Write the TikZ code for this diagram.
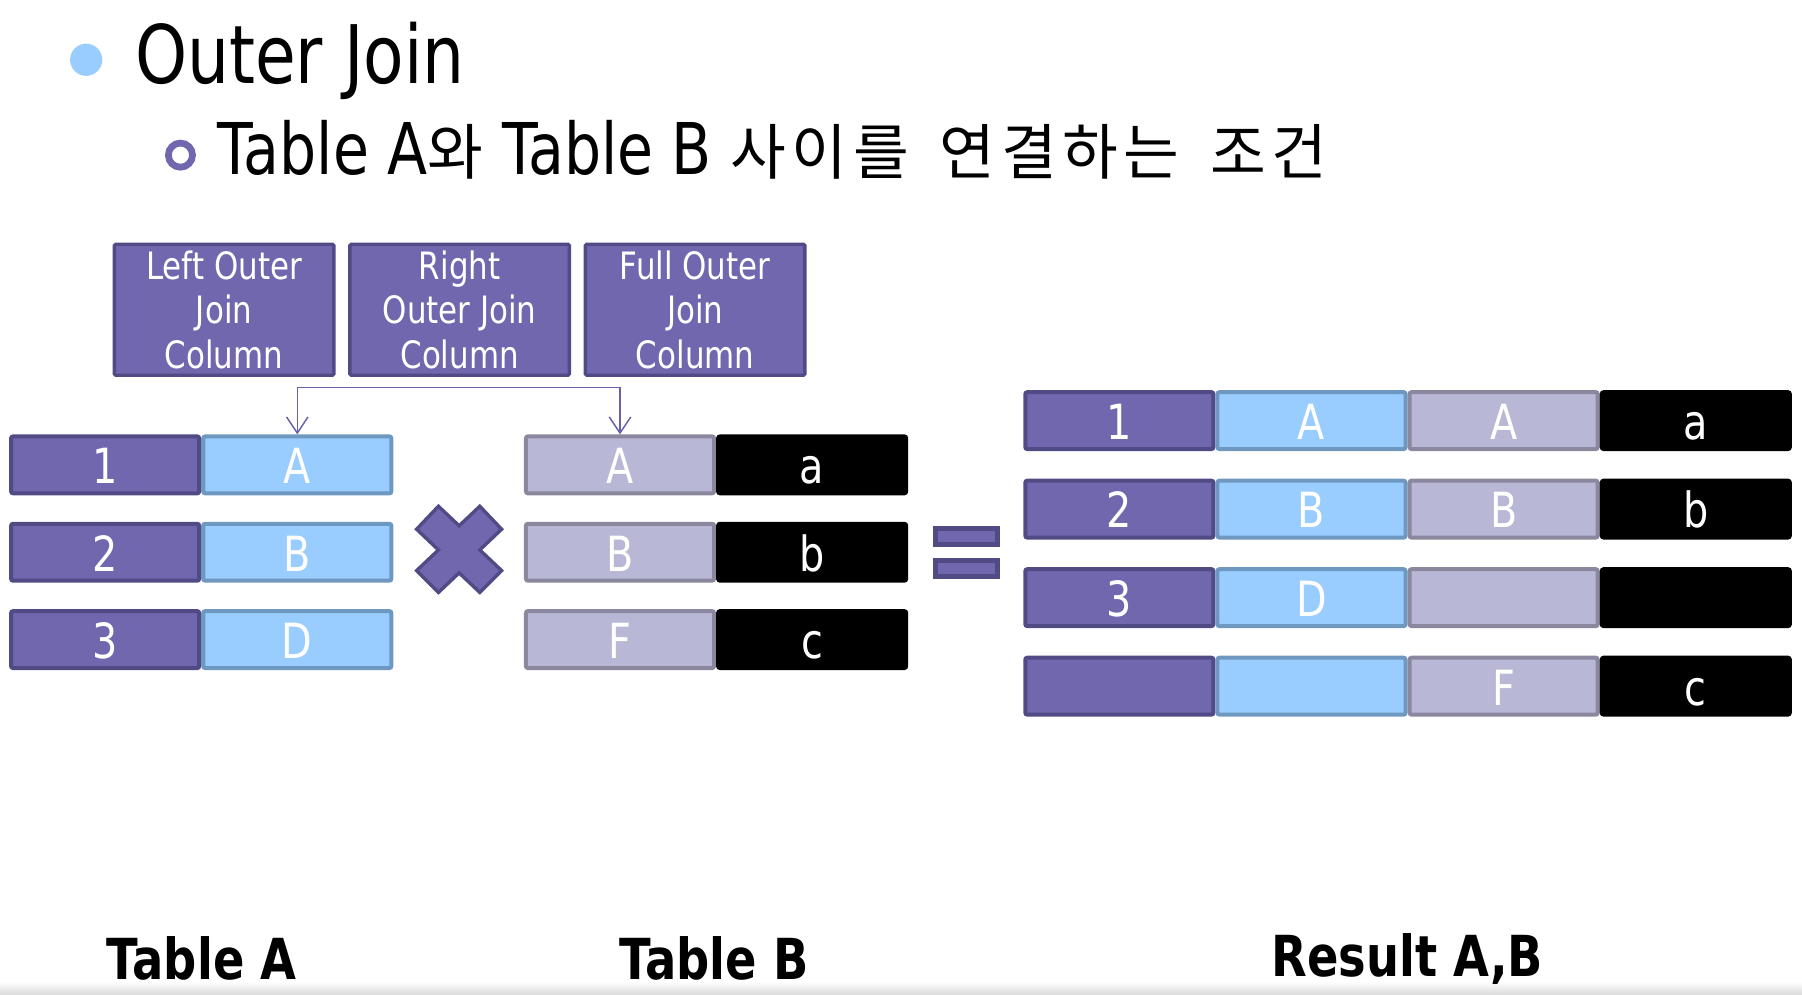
\documentclass[tikz,border=0pt]{standalone}
\usepackage{fontspec}
\setmainfont{DejaVu Sans}[FakeStretch=0.82]
\newfontfamily\kr{Noto Sans CJK KR}[LetterSpace=9]
\usepackage{tikz}
\usetikzlibrary{positioning,arrows.meta}
\definecolor{joinpurple}{RGB}{112,103,174}
\definecolor{joinpurpledk}{RGB}{80,74,133}
\definecolor{joinblue}{RGB}{153,204,255}
\definecolor{joinbluedk}{RGB}{111,152,192}
\definecolor{joinlav}{RGB}{185,183,214}
\definecolor{joinlavdk}{RGB}{138,135,158}
\definecolor{joinline}{RGB}{104,96,170}

\begin{document}
\begin{tikzpicture}[x=0.03cm, y=-0.03cm, >={Straight Barb[length=12pt,width=16pt]}, thick]
  \tikzstyle{cell} = [rectangle, rounded corners=1.5pt, line width=3pt, minimum width=4.91cm, minimum height=1.485cm, inner sep=0pt, text=white, text height=28pt, text depth=0pt, font=\fontsize{36}{40}\selectfont]
  \tikzstyle{numbox} = [cell, draw=joinpurpledk, fill=joinpurple]
  \tikzstyle{keyboxa} = [cell, draw=joinbluedk, fill=joinblue]
  \tikzstyle{keyboxb} = [cell, draw=joinlavdk, fill=joinlav]
  \tikzstyle{valbox} = [cell, draw=black, fill=black]
  \tikzstyle{headbox} = [rectangle, rounded corners=1pt, draw=joinpurpledk, fill=joinpurple, line width=2.5pt, minimum width=5.73cm, minimum height=3.42cm, text=white, align=center, font=\fontsize{28}{33}\selectfont]
  \tikzstyle{eqbar} = [rectangle, draw=joinpurpledk, fill=joinpurple, line width=3.7pt, minimum width=1.62cm, minimum height=0.42cm, inner sep=0pt]
  \tikzstyle{label} = [anchor=base, inner sep=0pt, font=\fontsize{42}{48}\bfseries]

  \useasboundingbox (0,0) rectangle (1568,865);
  \shade[top color=white, bottom color=black!14] (0,854) rectangle (1568,865);

  % bullets and heading
  \fill[joinblue] (75,52) circle (14);
  \node[anchor=base west, inner sep=0pt, font=\fontsize{60}{72}\selectfont] (title) at (117,73) {Outer Join};
  \draw[joinpurple, line width=5pt] (157,135) circle (10.5);
  \node[anchor=base west, inner sep=0pt, font=\fontsize{53}{60}\selectfont] (subtitle) at (189,152)
    {Table A{\kr\fontsize{45}{50}\selectfont 와} Table B {\kr\fontsize{45}{50}\selectfont 사이를\hspace{0.2em} 연결하는\hspace{0.2em} 조건}};

  % join column boxes
  \node[headbox] (left) at (195,269.5) {Left Outer\\Join\\Column};
  \node[headbox, right=0.33cm of left] (right) {Right\\Outer Join\\Column};
  \node[headbox, right=0.33cm of right] (full) {Full Outer\\Join\\Column};

  % table A
  \node[numbox] (ta1) at (91.5,404.5) {1};
  \node[keyboxa, right=0pt of ta1] (ta1k) {A};
  \node[numbox, below=0.69cm of ta1] (ta2) {2};
  \node[keyboxa, right=0pt of ta2] (ta2k) {B};
  \node[numbox, below=0.69cm of ta2] (ta3) {3};
  \node[keyboxa, right=0pt of ta3] (ta3k) {D};

  % table B
  \node[keyboxb] (tb1k) at (539.5,404.5) {A};
  \node[valbox, right=0pt of tb1k] (tb1) {a};
  \node[keyboxb, below=0.69cm of tb1k] (tb2k) {B};
  \node[valbox, right=0pt of tb2k] (tb2) {b};
  \node[keyboxb, below=0.69cm of tb2k] (tb3k) {F};
  \node[valbox, right=0pt of tb3k] (tb3) {c};

  \draw[<->, joinline, line width=1.1pt] (ta1k.north) -- ++(0,-41) -| (tb1k.north);

  % cross and equals
  \draw[joinpurpledk, fill=joinpurple, line width=2.5pt, line join=miter, shift={(399.5,478.5)}]
    (-18,-38) -- (0,-21) -- (18,-38) -- (37,-18) -- (18,0) -- (37,18) -- (18,37) -- (0,20)
    -- (-18,37) -- (-37,18) -- (-18,0) -- (-37,-18) -- cycle;
  \node[eqbar] (eqtop) at (841,467) {};
  \node[eqbar, below=0.27cm of eqtop] (eqbot) {};

  % result
  \node[numbox] (r1) at (974,366) {1};
  \node[keyboxa, right=0pt of r1] (r1a) {A};
  \node[keyboxb, right=0pt of r1a] (r1b) {A};
  \node[valbox, right=0pt of r1b] (r1c) {a};
  \node[numbox, below=0.72cm of r1] (r2) {2};
  \node[keyboxa, right=0pt of r2] (r2a) {B};
  \node[keyboxb, right=0pt of r2a] (r2b) {B};
  \node[valbox, right=0pt of r2b] (r2c) {b};
  \node[numbox, below=0.72cm of r2] (r3) {3};
  \node[keyboxa, right=0pt of r3] (r3a) {D};
  \node[keyboxb, right=0pt of r3a] (r3b) {};
  \node[valbox, right=0pt of r3b] (r3c) {};
  \node[numbox, below=0.72cm of r3] (r4) {};
  \node[keyboxa, right=0pt of r4] (r4a) {};
  \node[keyboxb, right=0pt of r4a] (r4b) {F};
  \node[valbox, right=0pt of r4b] (r4c) {c};

  % captions
  \node[label] (capa) at (175.5,852) {Table A};
  \node[label] (capb) at (621.5,852) {Table B};
  \node[label] (capr) at (1224.5,850) {Result A,B};
\end{tikzpicture}
\end{document}
